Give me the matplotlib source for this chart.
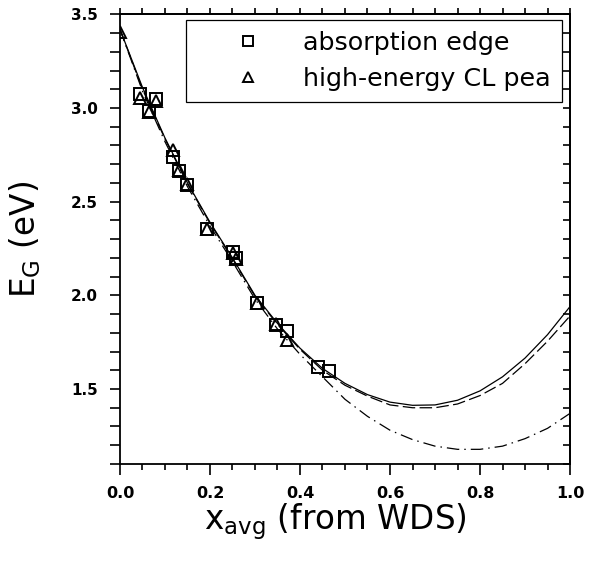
import numpy as np
import matplotlib
matplotlib.use("Agg")
import matplotlib.pyplot as plt
from matplotlib.ticker import MultipleLocator

abs_x = [0.044, 0.079, 0.064, 0.117, 0.132, 0.149, 0.193, 0.251, 0.258, 0.304, 0.347, 0.371, 0.440, 0.464]
abs_y = [3.073, 3.047, 2.983, 2.739, 2.663, 2.590, 2.355, 2.231, 2.199, 1.959, 1.841, 1.809, 1.617, 1.596]

cl_x = [0.0, 0.044, 0.080, 0.064, 0.117, 0.131, 0.149, 0.193, 0.251, 0.258, 0.304, 0.347, 0.371]
cl_y = [3.406, 3.052, 3.036, 2.977, 2.775, 2.668, 2.593, 2.353, 2.225, 2.193, 1.959, 1.847, 1.761]

# fit curves, read every 0.05 in x
curve_x = [0.0, 0.05, 0.10, 0.15, 0.20, 0.25, 0.30, 0.35, 0.40, 0.45, 0.50,
           0.55, 0.60, 0.65, 0.70, 0.75, 0.80, 0.85, 0.90, 0.95, 1.00]
solid_y = [3.42, 3.11, 2.84, 2.60, 2.39, 2.20, 2.00, 1.85, 1.718, 1.61, 1.53,
           1.47, 1.43, 1.413, 1.415, 1.44, 1.49, 1.565, 1.665, 1.79, 1.94]
dashed_y = [3.42, 3.10, 2.835, 2.595, 2.385, 2.195, 1.995, 1.845, 1.712, 1.60, 1.52,
            1.462, 1.415, 1.40, 1.40, 1.42, 1.465, 1.53, 1.635, 1.755, 1.89]
dashdot_y = [3.42, 3.09, 2.82, 2.58, 2.37, 2.18, 1.98, 1.82, 1.685, 1.565, 1.445,
             1.354, 1.28, 1.23, 1.195, 1.178, 1.178, 1.195, 1.235, 1.29, 1.37]

fig = plt.figure(figsize=(5.91, 5.61), dpi=100)
ax = fig.add_axes([0.203, 0.173, 0.7615, 0.8015])

ax.plot(curve_x, solid_y, color="black", lw=0.9)
ax.plot(curve_x, dashed_y, color="black", lw=0.9, linestyle=(0, (10, 3.5)))
ax.plot(curve_x, dashdot_y, color="black", lw=0.9, linestyle=(0, (10, 4, 1.2, 4)))

ax.plot(abs_x, abs_y, linestyle="none", marker="s", ms=8.5, mfc="none",
        mec="black", mew=1.4, label="absorption edge")
ax.plot(cl_x, cl_y, linestyle="none", marker="^", ms=8.5, mfc="none",
        mec="black", mew=1.4, label="high-energy CL pea")

ax.set_xlim(0, 1.0)
ax.set_ylim(1.1, 3.5)

ax.xaxis.set_major_locator(MultipleLocator(0.2))
ax.xaxis.set_minor_locator(MultipleLocator(0.05))
ax.yaxis.set_major_locator(MultipleLocator(0.5))
ax.yaxis.set_minor_locator(MultipleLocator(0.1))
ax.set_yticks([1.5, 2.0, 2.5, 3.0, 3.5])

ax.tick_params(axis="x", which="major", direction="out", length=8, width=1.2, pad=8,
               top=False, labelsize=11.5)
ax.tick_params(axis="x", which="minor", direction="out", length=4, width=1.2, top=False)
ax.tick_params(axis="y", which="both", direction="out", length=7, width=1.2, pad=9,
               right=False, labelsize=11)
for lab in ax.get_xticklabels() + ax.get_yticklabels():
    lab.set_fontweight("bold")

# top axis: short outward ticks, right axis: inward ticks
top = ax.secondary_xaxis("top")
top.xaxis.set_major_locator(MultipleLocator(0.05))
top.tick_params(direction="out", length=4, width=1.2, labeltop=False)
right = ax.secondary_yaxis("right")
right.yaxis.set_major_locator(MultipleLocator(0.1))
right.tick_params(direction="in", length=5, width=1.2, labelright=False)

for a in (ax, top, right):
    for s in a.spines.values():
        s.set_linewidth(1.3)

ax.set_xlabel(r"x$_{\mathregular{avg}}$ (from WDS)", fontsize=23.5)
ax.xaxis.set_label_coords(0.478, -0.083)
ax.set_ylabel(r"E$_{\mathregular{G}}$ (eV)", fontsize=23.5, labelpad=20)

leg = ax.legend(loc="upper right", bbox_to_anchor=(0.982, 0.988), fontsize=18.3,
                frameon=True, fancybox=False, framealpha=1, edgecolor="black",
                handlelength=3.95, handletextpad=0.2, borderpad=0.45,
                labelspacing=0.45, borderaxespad=0, markerscale=0.85)
leg.get_frame().set_linewidth(0.9)

fig.savefig("out.png", dpi=100)
